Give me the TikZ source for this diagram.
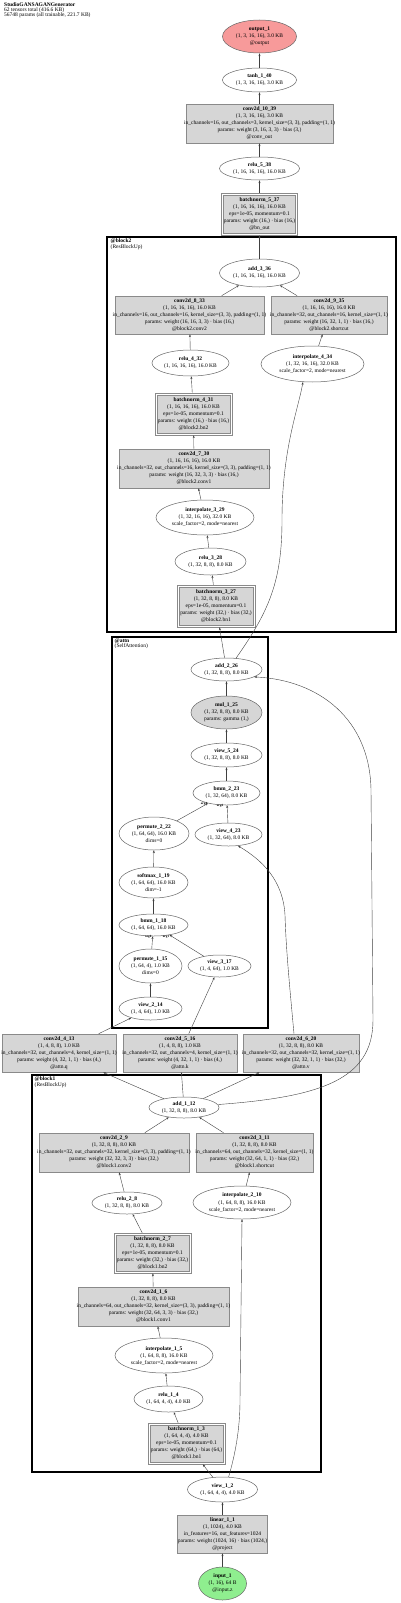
\documentclass[tikz,border=0pt]{standalone}
\usepackage{fontspec}
\setmainfont{Liberation Serif}
\usetikzlibrary{shapes.geometric,arrows.meta}
\definecolor{boxfill}{HTML}{D6D6D6}
\definecolor{boxline}{HTML}{8A8A8A}
\definecolor{outfill}{HTML}{F79A9A}
\definecolor{infill}{HTML}{8FEE8F}
\definecolor{edgecol}{HTML}{404040}
\tikzset{
 bx/.style={rectangle, draw=boxline, fill=boxfill, line width=0.6pt, inner sep=0pt},
 bnout/.style={rectangle, draw=boxline, line width=0.6pt, inner sep=0pt},
 el/.style={ellipse, draw=black!60, fill=white, line width=0.5pt, inner sep=0pt},
 txt/.style={align=center, inner sep=0pt, font=\fontsize{5.5}{7}\selectfont},
 edge/.style={draw=edgecol, line width=0.4pt, -{Stealth[length=2.8pt,width=2pt]}},
 cl/.style={draw=black, line width=2pt},
 cllab/.style={anchor=north west, align=left, inner sep=0pt, font=\fontsize{5.5}{5.5}\selectfont},
 elab/.style={inner sep=0pt, font=\fontsize{3.2}{3.5}\selectfont\bfseries},
}
\newcommand\gn[7]{\node[#1,minimum width=#5pt,minimum height=#6pt] (#2) at (#3,#4) {};\node[txt] (#2-t) at (#2) {#7};}
\newcommand\gbn[6]{\node[bnout,minimum width=#4pt,minimum height=#5pt] (#1-o) at (#2,#3) {};\node[bx,minimum width=#4pt-4pt,minimum height=#5pt-4pt] (#1) at (#2,#3) {};\node[txt] (#1-t) at (#1) {#6};}
\begin{document}
\begin{tikzpicture}[x=1pt,y=-1pt]
\useasboundingbox (0,0) rectangle (400,1603);
\node[anchor=north west, align=left, inner sep=0pt, font=\fontsize{5.5}{5}\selectfont] (title) at (4,2) {\textbf{StudioGANSAGANGenerator}\\62 tensors total (416.6 KB)\\56748 params (all trainable, 221.7 KB)};
% clusters
\draw[cl] (107,237) rectangle (396,632);
\node[cllab] (lb2) at (110.5,238.5) {\textbf{@block2}\\(ResBlockUp)};
\draw[cl] (112,637) rectangle (268,1028);
\node[cllab] (lba) at (114.5,638.5) {\textbf{@attn}\\(SelfAttention)};
\draw[cl] (32,1075) rectangle (321,1472);
\node[cllab] (lb1) at (34.5,1076.5) {\textbf{@block1}\\(ResBlockUp)};
% nodes
\gn{el,fill=outfill}{out}{259.5}{36.5}{74}{33}{\textbf{output\_1}\\(1, 3, 16, 16), 3.0 KB\\@output}
\gn{el}{tanh}{259.5}{80}{74}{24}{\textbf{tanh\_1\_40}\\(1, 3, 16, 16), 3.0 KB}
\gn{bx}{c10}{259.5}{123.5}{147}{39}{\textbf{conv2d\_10\_39}\\(1, 3, 16, 16), 3.0 KB\\in\_channels=16, out\_channels=3, kernel\_size=(3, 3), padding=(1, 1)\\params: weight (3, 16, 3, 3) · bias (3,)\\@conv\_out}
\gn{el}{r5}{259.5}{168.5}{80}{23}{\textbf{relu\_5\_38}\\(1, 16, 16, 16), 16.0 KB}
\gbn{bn5}{259.5}{214}{76}{42}{\textbf{batchnorm\_5\_37}\\(1, 16, 16, 16), 16.0 KB\\eps=1e-05, momentum=0.1\\params: weight (16,) · bias (16,)\\@bn\_out}
\gn{el}{add3}{259.5}{273}{80}{28}{\textbf{add\_3\_36}\\(1, 16, 16, 16), 16.0 KB}
\gn{bx}{c8}{189.5}{315}{149}{38}{\textbf{conv2d\_8\_33}\\(1, 16, 16, 16), 16.0 KB\\in\_channels=16, out\_channels=16, kernel\_size=(3, 3), padding=(1, 1)\\params: weight (16, 16, 3, 3) · bias (16,)\\@block2.conv2}
\gn{bx}{c9}{329}{315}{116}{38}{\textbf{conv2d\_9\_35}\\(1, 16, 16, 16), 16.0 KB\\in\_channels=32, out\_channels=16, kernel\_size=(1, 1)\\params: weight (16, 32, 1, 1) · bias (16,)\\@block2.shortcut}
\gn{el}{r4}{190.5}{363}{77}{26}{\textbf{relu\_4\_32}\\(1, 16, 16, 16), 16.0 KB}
\gn{el}{i4}{312.5}{364}{103}{36}{\textbf{interpolate\_4\_34}\\(1, 32, 16, 16), 32.0 KB\\scale\_factor=2, mode=nearest}
\gbn{bn4}{193.5}{414}{77}{42}{\textbf{batchnorm\_4\_31}\\(1, 16, 16, 16), 16.0 KB\\eps=1e-05, momentum=0.1\\params: weight (16,) · bias (16,)\\@block2.bn2}
\gn{bx}{c7}{194}{468.5}{150}{39}{\textbf{conv2d\_7\_30}\\(1, 16, 16, 16), 16.0 KB\\in\_channels=32, out\_channels=16, kernel\_size=(3, 3), padding=(1, 1)\\params: weight (16, 32, 3, 3) · bias (16,)\\@block2.conv1}
\gn{el}{i3}{205}{517.5}{98}{35}{\textbf{interpolate\_3\_29}\\(1, 32, 16, 16), 32.0 KB\\scale\_factor=2, mode=nearest}
\gn{el}{r3}{210.5}{561.5}{71}{27}{\textbf{relu\_3\_28}\\(1, 32, 8, 8), 8.0 KB}
\gbn{bn3}{216}{606}{78}{42}{\textbf{batchnorm\_3\_27}\\(1, 32, 8, 8), 8.0 KB\\eps=1e-05, momentum=0.1\\params: weight (32,) · bias (32,)\\@block2.bn1}
\gn{el}{add2}{226.5}{669.5}{71}{23}{\textbf{add\_2\_26}\\(1, 32, 8, 8), 8.0 KB}
\gn{el,fill=boxfill}{mul1}{226.5}{712.5}{71}{33}{\textbf{mul\_1\_25}\\(1, 32, 8, 8), 8.0 KB\\params: gamma (1,)}
\gn{el}{v5}{226.5}{755}{71}{24}{\textbf{view\_5\_24}\\(1, 32, 8, 8), 8.0 KB}
\gn{el}{bmm2}{226.5}{793}{67}{24}{\textbf{bmm\_2\_23}\\(1, 32, 64), 8.0 KB}
\gn{el}{p2}{154}{833.5}{70}{33}{\textbf{permute\_2\_22}\\(1, 64, 64), 16.0 KB\\dims=0}
\gn{el}{v4}{228.5}{834.5}{67}{23}{\textbf{view\_4\_23}\\(1, 32, 64), 8.0 KB}
\gn{el}{sm1}{153.5}{882.5}{69}{31}{\textbf{softmax\_1\_19}\\(1, 64, 64), 16.0 KB\\dim=-1}
\gn{el}{bmm1}{153.5}{925}{69}{22}{\textbf{bmm\_1\_18}\\(1, 64, 64), 16.0 KB}
\gn{el}{p1}{150.5}{966}{63}{34}{\textbf{permute\_1\_15}\\(1, 64, 4), 1.0 KB\\dims=0}
\gn{el}{v3}{219.5}{966}{63}{22}{\textbf{view\_3\_17}\\(1, 4, 64), 1.0 KB}
\gn{el}{v2}{150.5}{1008.5}{63}{23}{\textbf{view\_2\_14}\\(1, 4, 64), 1.0 KB}
\gn{bx}{c4}{59}{1053}{114}{38}{\textbf{conv2d\_4\_13}\\(1, 4, 8, 8), 1.0 KB\\in\_channels=32, out\_channels=4, kernel\_size=(1, 1)\\params: weight (4, 32, 1, 1) · bias (4,)\\@attn.q}
\gn{bx}{c5}{180}{1053}{114}{38}{\textbf{conv2d\_5\_16}\\(1, 4, 8, 8), 1.0 KB\\in\_channels=32, out\_channels=4, kernel\_size=(1, 1)\\params: weight (4, 32, 1, 1) · bias (4,)\\@attn.k}
\gn{bx}{c6}{301}{1053}{116}{38}{\textbf{conv2d\_6\_20}\\(1, 32, 8, 8), 8.0 KB\\in\_channels=32, out\_channels=32, kernel\_size=(1, 1)\\params: weight (32, 32, 1, 1) · bias (32,)\\@attn.v}
\gn{el}{add1}{184}{1107.5}{70}{21}{\textbf{add\_1\_12}\\(1, 32, 8, 8), 8.0 KB}
\gn{bx}{c2}{114}{1152.5}{150}{39}{\textbf{conv2d\_2\_9}\\(1, 32, 8, 8), 8.0 KB\\in\_channels=32, out\_channels=32, kernel\_size=(3, 3), padding=(1, 1)\\params: weight (32, 32, 3, 3) · bias (32,)\\@block1.conv2}
\gn{bx}{c3}{254.5}{1152.5}{117}{39}{\textbf{conv2d\_3\_11}\\(1, 32, 8, 8), 8.0 KB\\in\_channels=64, out\_channels=32, kernel\_size=(1, 1)\\params: weight (32, 64, 1, 1) · bias (32,)\\@block1.shortcut}
\gn{el}{r2}{127}{1203}{70}{22}{\textbf{relu\_2\_8}\\(1, 32, 8, 8), 8.0 KB}
\gn{el}{i2}{242}{1202.5}{98}{33}{\textbf{interpolate\_2\_10}\\(1, 64, 8, 8), 16.0 KB\\scale\_factor=2, mode=nearest}
\gbn{bn2}{152.5}{1253}{77}{40}{\textbf{batchnorm\_2\_7}\\(1, 32, 8, 8), 8.0 KB\\eps=1e-05, momentum=0.1\\params: weight (32,) · bias (32,)\\@block1.bn2}
\gn{bx}{c1}{153.5}{1306.5}{151}{39}{\textbf{conv2d\_1\_6}\\(1, 32, 8, 8), 8.0 KB\\in\_channels=64, out\_channels=32, kernel\_size=(3, 3), padding=(1, 1)\\params: weight (32, 64, 3, 3) · bias (32,)\\@block1.conv1}
\gn{el}{i1}{164}{1355.5}{98}{35}{\textbf{interpolate\_1\_5}\\(1, 64, 8, 8), 16.0 KB\\scale\_factor=2, mode=nearest}
\gn{el}{r1}{168.5}{1399}{69}{26}{\textbf{relu\_1\_4}\\(1, 64, 4, 4), 4.0 KB}
\gbn{bn1}{186.5}{1443.5}{77}{41}{\textbf{batchnorm\_1\_3}\\(1, 64, 4, 4), 4.0 KB\\eps=1e-05, momentum=0.1\\params: weight (64,) · bias (64,)\\@block1.bn1}
\gn{el}{v1}{222.5}{1489.5}{70}{25}{\textbf{view\_1\_2}\\(1, 64, 4, 4), 4.0 KB}
\gn{bx}{lin}{222.5}{1534}{90}{38}{\textbf{linear\_1\_1}\\(1, 1024), 4.0 KB\\in\_features=16, out\_features=1024\\params: weight (1024, 16) · bias (1024,)\\@project}
\gn{el,fill=infill}{inp}{222.5}{1583.5}{48}{33}{\textbf{input\_1}\\(1, 16), 64 B\\@input.z}
% edges
\draw[edge] (inp) -- (lin);
\draw[edge] (lin) -- (v1);
\draw[edge] (v1) -- (bn1-o);
\draw[edge] (v1.64) .. controls (235,1455) and (240,1430) .. (240,1400) -- (i2.south);
\draw[edge] (bn1-o) -- (r1);
\draw[edge] (r1) -- (i1);
\draw[edge] (i1) -- (c1);
\draw[edge] (c1) -- (bn2-o);
\draw[edge] (bn2-o) -- (r2);
\draw[edge] (r2) -- (c2);
\draw[edge] (c2) -- (add1);
\draw[edge] (i2) -- (c3);
\draw[edge] (c3) -- (add1);
\draw[edge] (add1) -- (c4);
\draw[edge] (add1) -- (c5);
\draw[edge] (add1) -- (c6);
\draw[edge] (add1.5) .. controls (320,1097) and (373,1080) .. (373,1020) -- (371,790) .. controls (370,720) and (320,680) .. (add2.-15);
\draw[edge] (c4) -- (v2);
\draw[edge] (v2) -- (p1);
\draw[edge] (c5) -- (v3);
\draw[edge] (p1) -- (bmm1);
\draw[edge] (v3) -- (bmm1);
\node[elab] (la1) at (148.3,936.7) {arg0};
\node[elab] (la2) at (166,936.7) {arg1};
\draw[edge] (bmm1) -- (sm1);
\draw[edge] (sm1) -- (p2);
\draw[edge] (c6.110) .. controls (290,990) and (286,950) .. (285,915) .. controls (283,880) and (262,860) .. (v4.-50);
\draw[edge] (p2) -- (bmm2);
\draw[edge] (v4) -- (bmm2);
\node[elab] (la3) at (204,804) {arg1};
\node[elab] (la4) at (220,805.5) {arg0};
\draw[edge] (bmm2) -- (v5);
\draw[edge] (v5) -- (mul1);
\draw[edge] (mul1) -- (add2);
\draw[edge] (add2) -- (bn3-o);
\draw[edge] (add2.50) .. controls (270,610) and (282,580) .. (282,520) .. controls (282,450) and (298,410) .. (i4.-118);
\draw[edge] (bn3-o) -- (r3);
\draw[edge] (r3) -- (i3);
\draw[edge] (i3) -- (c7);
\draw[edge] (c7) -- (bn4-o);
\draw[edge] (bn4-o) -- (r4);
\draw[edge] (r4) -- (c8);
\draw[edge] (c8) -- (add3);
\draw[edge] (i4) -- (c9);
\draw[edge] (c9) -- (add3);
\draw[edge] (add3) -- (bn5-o);
\draw[edge] (bn5-o) -- (r5);
\draw[edge] (r5) -- (c10);
\draw[edge] (c10) -- (tanh);
\draw[edge] (tanh) -- (out);
\end{tikzpicture}
\end{document}
